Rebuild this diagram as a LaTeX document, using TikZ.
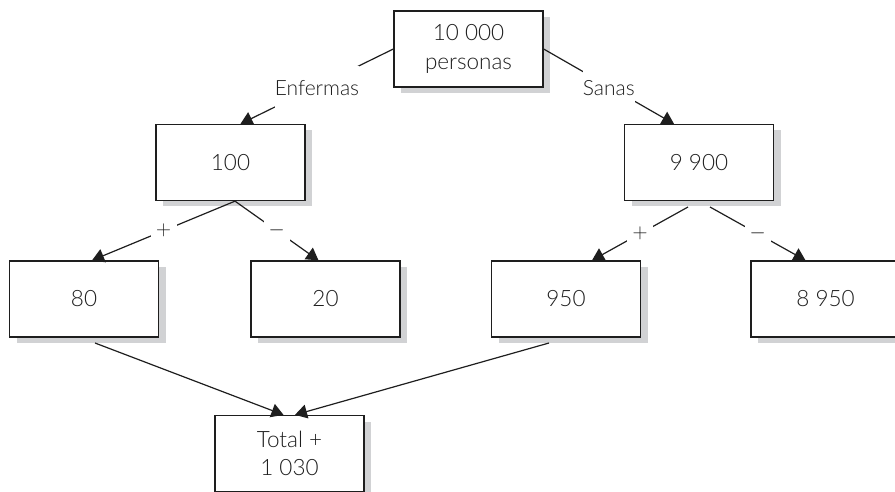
\documentclass[tikz,border=0pt]{standalone}
\usepackage{fontspec}
\setmainfont{Lato Light}
\usetikzlibrary{arrows.meta,shadows}
\definecolor{shade}{HTML}{D1D2D4}
\definecolor{ink}{HTML}{1E1E1E}
\tikzset{
  box/.style={draw=ink, line width=1.3pt, fill=white, minimum width=149pt, minimum height=76pt,
    inner sep=0pt, align=center, text=ink, font=\fontsize{22.5}{28.5}\selectfont,
    drop shadow={shadow xshift=7pt, shadow yshift=-6pt, fill=shade, opacity=1}},
  conn/.style={draw=ink, line width=1.2pt, -{Triangle[width=14pt,length=12pt]}},
  lbl/.style={fill=white, text=ink, font=\fontsize{21}{24}\selectfont, inner sep=0pt, minimum height=44pt, minimum width=20pt},
  sml/.style={fill=white, text=ink, font=\fontsize{20}{24}\selectfont, inner sep=0pt, minimum height=22pt, minimum width=26pt}
}
\begin{document}
\begin{tikzpicture}[x=1pt,y=-1pt]
\useasboundingbox (0,0) rectangle (895,492);
\clip (0,0) rectangle (895,492);
\node[box] (top) at (468.5,49) {10 000\\personas};
\node[box] (b100) at (230.5,162.5) {100};
\node[box] (b9900) at (699,162.5) {9 900};
\node[box] (b80) at (84,299) {80};
\node[box] (b20) at (325.5,299) {20};
\node[box] (b950) at (566,299) {950};
\node[box] (b8950) at (825.5,299) {8 950};
\node[box] (tot) at (289.5,453.5) {Total +\\1 030};

\coordinate (s100) at ([xshift=4.5pt]b100.south);
\coordinate (s99a) at (688,207);
\coordinate (s99b) at (710,207);
\coordinate (s80) at (95,343);
\coordinate (s950) at (549,343);

\draw[conn] (top.west) -- ([xshift=10pt]b100.north) node[lbl,pos=0.5,yshift=-2pt] {Enfermas};
\draw[conn] (top.east) -- ([xshift=-25pt]b9900.north) node[lbl,pos=0.5,yshift=-2pt] {Sanas};
\draw[conn] (s100) -- ([xshift=8pt]b80.north) node[sml,pos=0.5] {$+$};
\draw[conn] (s100) -- ([xshift=-7pt]b20.north) node[sml,pos=0.5,minimum height=34pt] {$-$};
\draw[conn] (s99a) -- ([xshift=26pt]b950.north) node[sml,pos=0.5,minimum height=24pt] {$+$};
\draw[conn] (s99b) -- ([xshift=-20pt]b8950.north) node[sml,pos=0.5,minimum height=26pt] {$-$};
\draw[conn] (s80) -- ([xshift=-6pt]tot.north);
\draw[conn] (s950) -- ([xshift=5.5pt]tot.north);
\end{tikzpicture}
\end{document}
